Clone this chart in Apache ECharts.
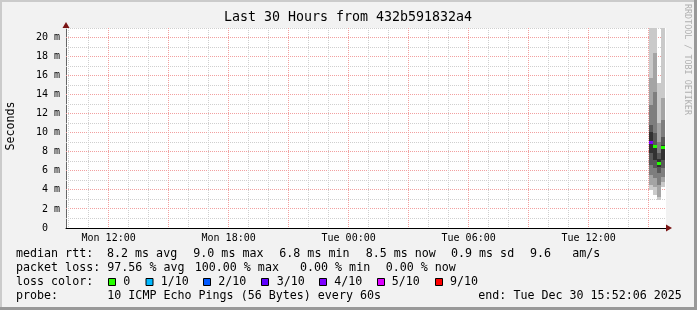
<!DOCTYPE html>
<html>
<head>
<meta charset="utf-8">
<script src="https://cdn.jsdelivr.net/npm/echarts@6/dist/echarts.min.js"></script>
<style>
html,body{margin:0;padding:0;background:#f2f2f2;}
#c{width:697px;height:310px;}
</style>
</head>
<body>
<div id="c"></div>
<script>
// ---------- data ----------
const rangeStartLabel = 'Mon 09:52:06';
const rangeEndLabel = 'Tue 15:52:06';
const xTickLabels = ['Mon 12:00', 'Mon 18:00', 'Tue 00:00', 'Tue 06:00', 'Tue 12:00'];
const yTickValues = [0, 2, 4, 6, 8, 10, 12, 14, 16, 18, 20];
const yMax = 21;
const hourGrid = [10,11,12,13,14,15,16,17,18,19,20,21,22,23,24,25,26,27,28,29,30,31,32,33,34,35,36,37,38,39];
const msGrid = [1,2,3,4,5,6,7,8,9,10,11,12,13,14,15,16,17,18,19,20,21];

// smoke columns (time buckets) and the 10 sorted ping rtts (ms) in each
const colStart = ['Tue 15:01', 'Tue 15:13', 'Tue 15:25', 'Tue 15:37'];
const colEnd   = ['Tue 15:13', 'Tue 15:25', 'Tue 15:37', 'Tue 15:49'];
const pingsA = [4.0, 4.5, 5.6, 6.6, 7.9, 10.1, 10.8, 12.9, 15.8, 22];
const pingsB = [3.5, 4.3, 5.2, 6.3, 7.1, 8.7, 10.0, 14.3, 18.4, 22];
const pingsC = [2.9, 3.3, 4.5, 5.8, 6.4, 7.2, 7.9, 9.0, 11.0, 15.2];
const pingsD = [4.3, 4.8, 5.4, 6.3, 7.1, 8.7, 9.6, 11.3, 13.6, 22];
const medianRtt = [9.0, 8.6, 6.8, 8.5];
const lossTenths = [4, 0, 0, 0];

// loss colour legend
const lossLevels = [0, 1, 2, 3, 4, 5, 9];
const lossNames = ['0', '1/10', '2/10', '3/10', '4/10', '5/10', '9/10'];
const lossColorList = ['#26ff00', '#00b8ff', '#0059ff', '#5e00ff', '#7e00ff', '#dd00ff', '#ff0000'];

// legend text
const titleText = 'Last 30 Hours from 432b591832a4';
const statRtt = ['median rtt:', '8.2 ms avg', '9.0 ms max', '6.8 ms min', '8.5 ms now', '0.9 ms sd', '9.6', 'am/s'];
const statLoss = ['packet loss:', '97.56 % avg', '100.00 % max', '0.00 % min', '0.00 % now'];
const probeText = ['probe:', '10 ICMP Echo Pings (56 Bytes) every 60s', 'end: Tue Dec 30 15:52:06 2025'];

// ---------- helpers ----------
function toHours(s) {
  const parts = s.split(' ');
  const hms = parts[1].split(':').map(Number);
  return (parts[0] === 'Tue' ? 24 : 0) + hms[0] + hms[1] / 60 + (hms[2] || 0) / 3600;
}
const xMin = toHours(rangeStartLabel);
const xMax = toHours(rangeEndLabel);
const xTickValues = xTickLabels.map(toHours);

const MONO = '"DejaVu Sans Mono", "Liberation Mono", monospace';
const RED = '#f2a0a0';
const GRAY = '#cfcfcf';
const smokeShades = ['#cacaca', '#a4a4a4', '#7e7e7e', '#585858', '#323232'];
const lossColorOf = {};
lossLevels.forEach((l, i) => { lossColorOf[l] = lossColorList[i]; });

const allPings = [pingsA, pingsB, pingsC, pingsD];
const smokeData = allPings.map((p, i) => [toHours(colStart[i]), toHours(colEnd[i])].concat(p));
const medianData = medianRtt.map((m, i) => [toHours(colStart[i]), toHours(colEnd[i]), m, lossTenths[i]]);

function csRect(cs) { return { x: cs.x, y: cs.y, width: cs.width, height: cs.height }; }

function vLine(params, api) {
  const cs = params.coordSys;
  const h = api.value(0);
  const x = Math.floor(api.coord([h, 0])[0]) + 0.5;
  return { type: 'line', silent: true,
    shape: { x1: x, y1: cs.y, x2: x, y2: cs.y + cs.height },
    style: { stroke: h % 3 === 0 ? RED : GRAY, lineWidth: 1, lineDash: [1, 1] } };
}
function hLine(params, api) {
  const cs = params.coordSys;
  const v = api.value(1);
  const y = Math.floor(api.coord([xMin, v])[1]) + 0.5;
  return { type: 'line', silent: true,
    shape: { x1: cs.x, y1: y, x2: cs.x + cs.width, y2: y },
    style: { stroke: v % 2 === 0 ? RED : GRAY, lineWidth: 1, lineDash: [1, 1] } };
}
function smoke(params, api) {
  const cs = params.coordSys;
  const t0 = api.value(0), t1 = api.value(1);
  const x0 = Math.round(api.coord([t0, 0])[0]);
  const x1 = Math.round(api.coord([t1, 0])[0]);
  const children = [];
  for (let i = 0; i < 9; i++) {
    const lo = api.value(2 + i), hi = api.value(3 + i);
    const yLo = Math.round(api.coord([t0, lo])[1]);
    const yHi = Math.round(api.coord([t0, hi])[1]);
    const shape = echarts.graphic.clipRectByRect(
      { x: x0, y: yHi, width: x1 - x0, height: yLo - yHi }, csRect(cs));
    if (shape) children.push({ type: 'rect', shape: shape, style: { fill: smokeShades[Math.min(i, 8 - i)] } });
  }
  return { type: 'group', children: children };
}
function medianSeg(params, api) {
  const t0 = api.value(0), t1 = api.value(1);
  const x0 = Math.round(api.coord([t0, 0])[0]);
  const x1 = Math.round(api.coord([t1, 0])[0]);
  const y = Math.round(api.coord([t0, api.value(2)])[1]);
  return { type: 'rect', shape: { x: x0, y: y - 1, width: x1 - x0, height: 3 },
    style: { fill: lossColorOf[api.value(3)] } };
}

// ---------- text graphics ----------
const LF = '11.66px ' + MONO;
function txt(s, x, y, font, extra) {
  return Object.assign({ type: 'text', silent: true, x: x, y: y,
    style: { text: s, font: font, fill: '#000', align: 'left', verticalAlign: 'middle' } }, extra || {});
}
const graphics = [
  { type: 'rect', silent: true, shape: { x: 0, y: 0, width: 697, height: 2 }, style: { fill: '#cbcbcb' } },
  { type: 'rect', silent: true, shape: { x: 0, y: 0, width: 2, height: 310 }, style: { fill: '#cbcbcb' } },
  { type: 'rect', silent: true, shape: { x: 694, y: 0, width: 3, height: 310 }, style: { fill: '#999999' } },
  { type: 'rect', silent: true, shape: { x: 0, y: 307, width: 697, height: 3 }, style: { fill: '#999999' } },
  txt(titleText, 348, 18, '13.3px ' + MONO, {}),
  { type: 'text', silent: true, x: 11, y: 126, rotation: Math.PI / 2,
    style: { text: 'Seconds', font: '11.66px ' + MONO, fill: '#000', align: 'center', verticalAlign: 'middle' } },
  { type: 'text', silent: true, x: 687, y: 4, rotation: -Math.PI / 2,
    style: { text: 'RRDTOOL / TOBI OETIKER', font: '8.4px ' + MONO, fill: '#b0b0b0', align: 'left', verticalAlign: 'middle' } }
];
graphics[4].style.align = 'center';

const rttX = [16, 107, 193.3, 279.3, 365.7, 451, 530, 572.3];
statRtt.forEach((s, i) => graphics.push(txt(s, rttX[i], 254.3, LF)));
const lossX = [16, 107.3, 194.7, 300, 385.7];
statLoss.forEach((s, i) => graphics.push(txt(s, lossX[i], 268.3, LF)));
graphics.push(txt('loss color:', 16, 282.3, LF));
const boxX = [108.5, 146, 203.5, 261.5, 319.5, 377.5, 435.5];
const boxLabelX = [123.3, 160.7, 218.3, 276.7, 334.3, 391.7, 450];
lossNames.forEach((n, i) => {
  graphics.push({ type: 'rect', silent: true, shape: { x: boxX[i], y: 278.5, width: 7, height: 7 },
    style: { fill: lossColorList[i], stroke: '#000', lineWidth: 1 } });
  graphics.push(txt(n, boxLabelX[i], 282.3, LF));
});
const probeX = [16, 107.3, 478.3];
probeText.forEach((s, i) => graphics.push(txt(s, probeX[i], 296.3, LF)));

// ---------- chart ----------
const chart = echarts.init(document.getElementById('c'), null, { renderer: 'canvas', width: 697, height: 310 });
chart.setOption({
  animation: false,
  backgroundColor: '#f2f2f2',
  grid: { left: 66, right: 31, top: 28, bottom: 82, show: true, backgroundColor: '#ffffff', borderWidth: 0 },
  xAxis: [
    { type: 'value', min: xMin, max: xMax, position: 'bottom',
      axisLine: { show: true, onZero: false, lineStyle: { color: '#000', width: 1 } },
      axisTick: { show: false }, splitLine: { show: false },
      axisLabel: { customValues: xTickValues, fontFamily: MONO, fontSize: 10, color: '#000', margin: 5,
        formatter: v => { const k = xTickValues.findIndex(t => Math.abs(t - v) < 1e-6); return k >= 0 ? xTickLabels[k] : ''; } } },
    { type: 'value', min: xMin, max: xMax, position: 'bottom',
      axisLine: { show: true, onZero: false, symbol: ['none', 'triangle'], symbolSize: [7, 6], symbolOffset: [0, 3],
        lineStyle: { color: '#7a1414', width: 0 } },
      axisTick: { show: false }, splitLine: { show: false }, axisLabel: { show: false } }
  ],
  yAxis: [
    { type: 'value', min: 0, max: yMax, position: 'left',
      axisLine: { show: true, onZero: false, lineStyle: { color: '#666', width: 1 } },
      axisTick: { show: false }, splitLine: { show: false },
      axisLabel: { customValues: yTickValues, fontFamily: MONO, fontSize: 10, color: '#000', margin: 6,
        formatter: v => v === 0 ? '0  ' : (Math.round(v) + ' m') } },
    { type: 'value', min: 0, max: yMax, position: 'left',
      axisLine: { show: true, onZero: false, symbol: ['none', 'triangle'], symbolSize: [7, 6], symbolOffset: [0, 3],
        lineStyle: { color: '#7a1414', width: 0 } },
      axisTick: { show: false }, splitLine: { show: false }, axisLabel: { show: false } }
  ],
  series: [
    { type: 'custom', name: 'hgrid', silent: true, z: 1, xAxisIndex: 0, yAxisIndex: 0,
      renderItem: hLine, data: msGrid.map(v => [xMin, v]) },
    { type: 'custom', name: 'vgrid', silent: true, z: 1, xAxisIndex: 0, yAxisIndex: 0,
      renderItem: vLine, data: hourGrid.map(h => [h, 0]) },
    { type: 'custom', name: 'smoke', silent: true, z: 2, xAxisIndex: 0, yAxisIndex: 0,
      renderItem: smoke, data: smokeData },
    { type: 'custom', name: 'median', silent: true, z: 3, xAxisIndex: 0, yAxisIndex: 0,
      renderItem: medianSeg, data: medianData }
  ],
  graphic: graphics
});
</script>
</body>
</html>
